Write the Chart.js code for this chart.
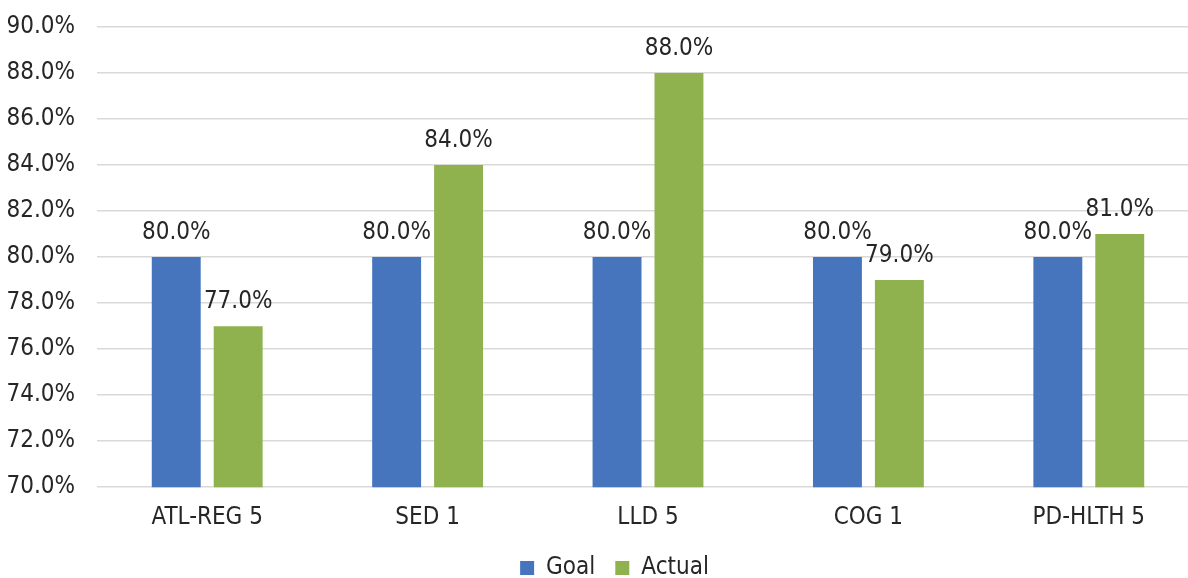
<!DOCTYPE html>
<html>
<head>
<meta charset="utf-8">
<script src="https://cdn.jsdelivr.net/npm/chart.js@4"></script>
<style>
  html, body { margin: 0; padding: 0; background: #ffffff; overflow: hidden; }
  #wrap { position: absolute; left: 0; top: 0; width: 1228px; height: 578px; }
</style>
</head>
<body>
<div id="wrap"><canvas id="c"></canvas></div>
<script>
const categories = ['ATL-REG 5', 'SED 1', 'LLD 5', 'COG 1', 'PD-HLTH 5'];
const goalValues = [80.0, 80.0, 80.0, 80.0, 80.0];
const actualValues = [77.0, 84.0, 88.0, 79.0, 81.0];
const seriesNames = ['Goal', 'Actual'];
const yMin = 70, yMax = 90, yStep = 2;

const FONT = '"Liberation Sans Narrow", "Arial Narrow", "DejaVu Sans Condensed", sans-serif';
const TEXT = '#262626';

const valueLabels = {
  id: 'valueLabels',
  afterDatasetsDraw(chart) {
    const ctx = chart.ctx;
    ctx.save();
    ctx.font = '24px ' + FONT;
    ctx.fillStyle = TEXT;
    ctx.textAlign = 'center';
    ctx.textBaseline = 'alphabetic';
    chart.data.datasets.forEach((ds, i) => {
      const meta = chart.getDatasetMeta(i);
      meta.data.forEach((bar, j) => {
        ctx.fillText(ds.data[j].toFixed(1) + '%', bar.x, bar.y - 18);
      });
    });
    ctx.restore();
  }
};

// Center the legend on the full (wider) chart box, as in the original
const legendShift = {
  id: 'legendShift',
  afterLayout(chart) {
    if (chart.legend) { chart.legend.left += 11; chart.legend.right += 11; }
  }
};

new Chart(document.getElementById('c'), {
  type: 'bar',
  data: {
    labels: categories,
    datasets: [
      { label: seriesNames[0], data: goalValues, backgroundColor: '#4674bd' },
      { label: seriesNames[1], data: actualValues, backgroundColor: '#8fb24e' }
    ]
  },
  options: {
    responsive: true,
    maintainAspectRatio: false,
    animation: false,
    devicePixelRatio: 1,
    layout: { padding: { left: 8, right: 29, top: 27, bottom: -12 } },
    datasets: { bar: { categoryPercentage: 0.562, barPercentage: 0.79 } },
    scales: {
      x: {
        grid: { display: false },
        border: { display: false },
        ticks: { color: TEXT, font: { family: FONT, size: 24 }, padding: 8 },
        afterFit(scale) { scale.height = 48.8; }
      },
      y: {
        min: yMin, max: yMax,
        grid: { color: '#d9d9d9', lineWidth: 1.5, drawTicks: false },
        border: { display: false },
        ticks: {
          stepSize: yStep,
          color: TEXT,
          font: { family: FONT, size: 24 },
          padding: 22,
          callback: v => v.toFixed(1) + '%'
        },
        afterFit(scale) { scale.width = 89; scale.paddingTop = 0; scale.paddingBottom = 0; }
      }
    },
    plugins: {
      legend: {
        position: 'bottom',
        labels: {
          color: TEXT,
          font: { family: FONT, size: 24 },
          boxWidth: 14, boxHeight: 14,
          padding: 20
        }
      },
      tooltip: { enabled: false }
    }
  },
  plugins: [valueLabels, legendShift]
});
</script>
</body>
</html>
